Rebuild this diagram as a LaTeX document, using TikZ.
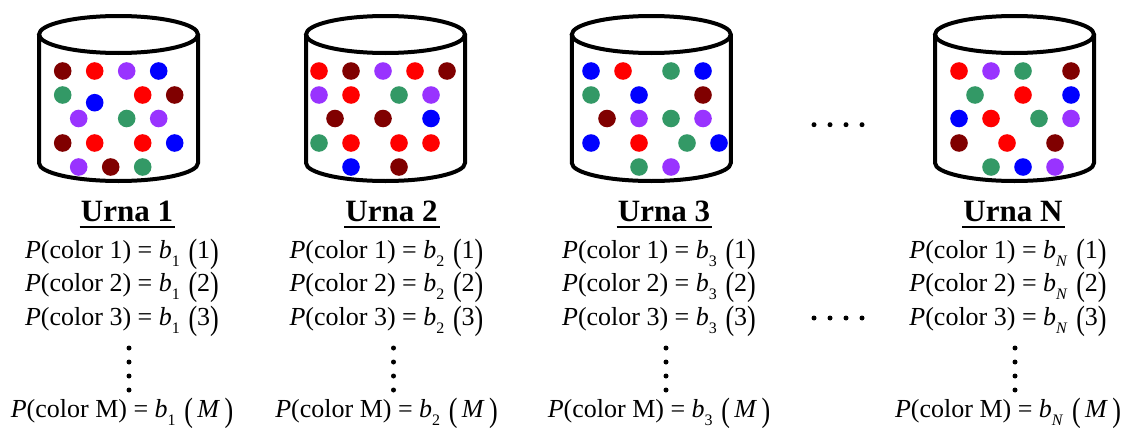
\documentclass[tikz,border=0pt]{standalone}
\usepackage{fontspec,graphicx}
\setmainfont{Liberation Serif}
\usetikzlibrary{positioning}
\definecolor{bordo}{RGB}{128,0,0}
\definecolor{rojo}{RGB}{255,0,0}
\definecolor{lila}{RGB}{153,51,255}
\definecolor{azul}{RGB}{0,0,255}
\definecolor{verde}{RGB}{51,153,102}
\newcommand{\bpar}[1]{\raisebox{-.17em}{\scalebox{1}[1.3]{(}}#1\raisebox{-.17em}{\scalebox{1}[1.3]{)}}}
\newcommand{\pcol}[3]{\textit{P}(color #1) = \textit{b}\raisebox{-.32em}{\fontsize{8}{8}\selectfont #2}\,\,\bpar{#3}}
\begin{document}
\begin{tikzpicture}[x=0.5pt,y=-0.5pt,urna/.style={line width=2pt},bola/.style={radius=4.4pt},pto/.style={radius=1.25pt},tit/.style={font=\fontsize{15.5}{18}\selectfont\bfseries,anchor=base,inner sep=0pt},prob/.style={font=\fontsize{13}{15}\selectfont,anchor=base,inner sep=0pt}]
\useasboundingbox (0,0) rectangle (1131,428);
\foreach \cx/\tx/\k/\s in {118.5/122/1/1,385.5/386.5/2/2,651.3/659/3/3,1014.5/1008/N/{\textit{N}}}{
\draw[urna] (\cx,34.5) ellipse[x radius=39.75pt,y radius=9.25pt];
\draw[urna] (\cx-79.5,34.5) -- (\cx-79.5,163) arc[start angle=180,end angle=360,x radius=39.75pt,y radius=9pt] -- (\cx+79.5,34.5);
\node[tit] (t\k) at (\tx+5,221.7) {Urna \k};
\draw[line width=1pt] ([yshift=-2.7pt,xshift=-.5pt]t\k.base west) -- ([yshift=-2.7pt,xshift=1pt]t\k.base east);
\foreach \c/\yy in {1/258,2/291.5,3/325}
  \node[prob] (p\k\c) at (\tx,\yy) {\pcol{\c}{\s}{\c}};
\node[prob] (p\k M) at (\tx,417) {\pcol{M}{\s}{\,\textit{M}\,}};
\foreach \yy in {348,362,376,390} \fill[pto] (\tx+7,\yy) circle;
}
\foreach \x/\y/\c in {62.7/71/bordo,94.7/71/rojo,126.7/71/lila,158.7/71/azul,62.7/95/verde,142.7/95/rojo,174.7/95/bordo,94.7/102.7/azul,78.7/118.5/lila,126.7/118.5/verde,158.7/118.5/lila,62.7/143/bordo,94.7/143/rojo,142.7/143/rojo,174.7/143/azul,78.7/167/lila,110.7/167/bordo,142.7/167/verde}
  \fill[bola,\c] (\x,\y) circle;
\foreach \x/\y/\c in {319/71/rojo,351/71/bordo,383/71/lila,415/71/rojo,447/71/bordo,319/95/lila,351/95/rojo,399/95/verde,431/95/lila,335/118.5/bordo,383/118.5/bordo,431/118.5/azul,319/143/verde,351/143/rojo,399/143/rojo,431/143/rojo,351/167/azul,399/167/bordo}
  \fill[bola,\c] (\x,\y) circle;
\foreach \x/\y/\c in {591/71/azul,623/71/rojo,671/71/verde,703/71/azul,591/95/verde,639/95/azul,703/95/bordo,607/118.5/bordo,639/118.5/lila,671/118.5/verde,703/118.5/lila,591/143/azul,639/143/rojo,687/143/verde,719/143/azul,639/167/verde,671/167/lila}
  \fill[bola,\c] (\x,\y) circle;
\foreach \x/\y/\c in {959/71/rojo,991/71/lila,1023/71/verde,1071/71/bordo,975/95/verde,1023/95/rojo,1071/95/azul,959/118.5/azul,991/118.5/rojo,1039/118.5/verde,1071/118.5/lila,959/143/bordo,1007/143/rojo,1055/143/bordo,991/167/verde,1023/167/azul,1055/167/lila}
  \fill[bola,\c] (\x,\y) circle;
\foreach \x in {814,830,846,862}{
  \fill[pto] (\x,124.7) circle;
  \fill[pto] (\x,318) circle;
}
\end{tikzpicture}
\end{document}
